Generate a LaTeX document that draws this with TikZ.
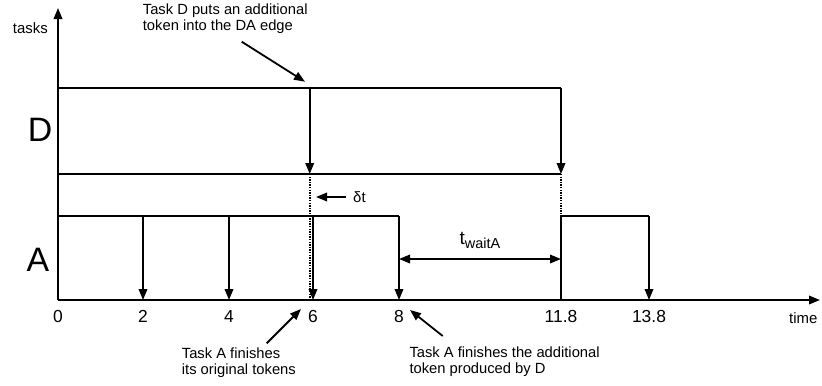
\documentclass[tikz,border=0pt]{standalone}
\usepackage{fontspec}
\setmainfont{Liberation Sans}
\usetikzlibrary{arrows.meta,positioning,calc}
\tikzset{
  axisline/.style={line width=2bp, -{Triangle[length=11bp, width=8.5bp]}},
  levelline/.style={line width=2bp},
  tokenarr/.style={line width=2bp, -{Triangle[length=11bp, width=8.5bp]}},
  shiftline/.style={line width=1.8bp, dash pattern=on 1.3bp off 1.3bp},
  waitarr/.style={line width=2bp, {Triangle[length=11bp, width=8.5bp]}-{Triangle[length=11bp, width=8.5bp]}},
  notearr/.style={line width=1.8bp, -{Triangle[length=11bp, width=8.5bp]}},
  notetext/.style={font=\fontsize{14.8}{16}\selectfont, align=left, inner sep=0pt},
  ticklabel/.style={font=\fontsize{17.5}{18}\selectfont, anchor=north, inner sep=0pt},
  axislabel/.style={font=\fontsize{15}{16}\selectfont, inner sep=0pt},
  tasklabel/.style={font=\fontsize{34}{35}\selectfont, inner sep=0pt},
  waitlabel/.style={font=\fontsize{19}{20}\selectfont, inner sep=0pt},
}

\begin{document}
\begin{tikzpicture}[x=1bp, y=1bp]
  \useasboundingbox (-58,-85) rectangle (764,300);
  % ---- ejes ----
  \coordinate (O) at (0,0);
  \coordinate (ytop) at (0,292);
  \coordinate (xend) at (762,0);
  \draw[axisline] (O) -- (ytop);
  \draw[axisline] (O) -- (xend);
  \node[axislabel, anchor=base east] (ylab) at (-10,267) {tasks};
  \node[axislabel, anchor=base west] (xlab) at (731,-23) {time};
  \foreach \n/\x/\lab in {t0/0/0, t2/85/2, t4/171/4, t6/255/6, t8/341/8, t118/503/11.8, t138/591/13.8} {
    \coordinate (\n) at (\x,0);
    \node[ticklabel] (l\n) at (\x,-10) {\lab};
  }
  \coordinate (tD) at (251.7,0);
  % ---- niveles ----
  \coordinate (Atop) at (0,84);
  \coordinate (Dbot) at (0,126);
  \coordinate (Dtop) at (0,212);
  \node[tasklabel] (labD) at (-18,170) {D};
  \node[tasklabel] (labA) at (-20,40) {A};
  % tarea D
  \draw[levelline] (Dtop) -- (t118 |- Dtop);
  \draw[levelline] (Dbot) -- (t118 |- Dbot);
  \draw[tokenarr] (tD |- Dtop) -- (tD |- Dbot);
  \draw[tokenarr] (t118 |- Dtop) -- (t118 |- Dbot);
  \draw[shiftline] (tD |- Dbot) -- (tD);
  \draw[shiftline] (t118 |- Dbot) -- (t118 |- Atop);
  % tarea A
  \draw[levelline] (Atop) -- (t8 |- Atop);
  \foreach \n in {t2,t4,t6,t8}
    \draw[tokenarr] (\n |- Atop) -- (\n);
  \draw[levelline] (t118) -- (t118 |- Atop) -- (t138 |- Atop);
  \draw[tokenarr] (t138 |- Atop) -- (t138);
  % ---- delta t y espera ----
  \node[axislabel, anchor=west] (dlab) at (295,103) {δt};
  \coordinate (dtip) at (258,103);
  \draw[notearr] ([xshift=-7bp]dlab.west) -- (dtip);
  \coordinate (w) at (0,41);
  \draw[waitarr] (t8 |- w) -- node[waitlabel, above=9bp] (twait) {t\raisebox{-4bp}{\fontsize{14.5}{15}\selectfont waitA}} (t118 |- w);
  % ---- notas ----
  \node[notetext, anchor=north west] (noteD) at (84.7,296) {Task D puts an additional\\token into the DA edge};
  \coordinate (noteDs) at (183.7,258.3);
  \coordinate (noteDtip) at (247,218.3);
  \draw[notearr] (noteDs) -- (noteDtip);
  \node[notetext, anchor=north west] (noteA1) at (123.7,-48) {Task A finishes\\its original tokens};
  \coordinate (noteA1s) at (208.7,-43.3);
  \coordinate (noteA1tip) at (243,-9);
  \draw[notearr] (noteA1s) -- (noteA1tip);
  \node[notetext, anchor=north west] (noteA2) at (351.3,-46.7) {Task A finishes the additional\\token produced by D};
  \coordinate (noteA2s) at (384.7,-36);
  \coordinate (noteA2tip) at (352,-10);
  \draw[notearr] (noteA2s) -- (noteA2tip);
\end{tikzpicture}
\end{document}
